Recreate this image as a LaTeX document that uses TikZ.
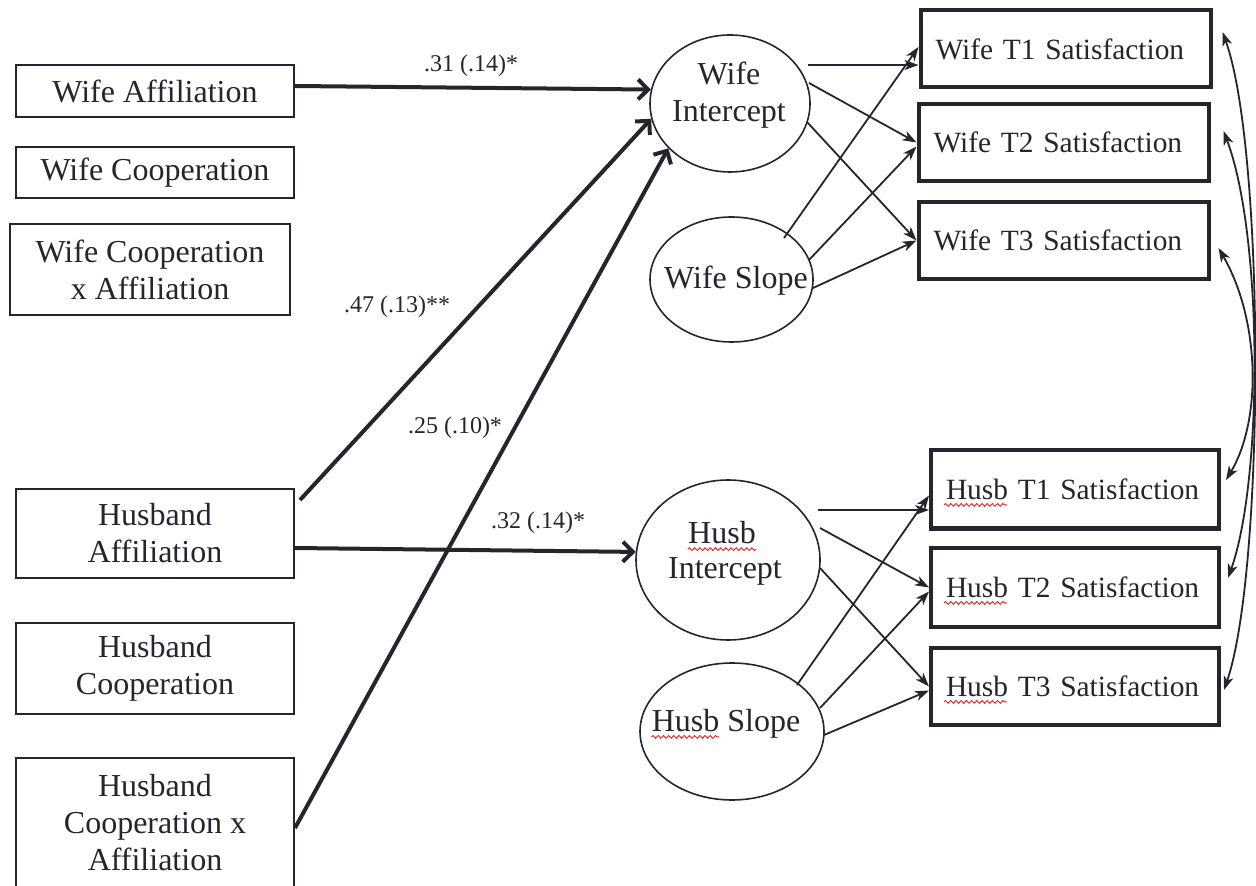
\documentclass[tikz,border=0pt]{standalone}
\usepackage{fontspec}
\setmainfont{Liberation Serif}
\usetikzlibrary{arrows.meta,shapes.geometric,calc,decorations.pathmorphing}
\definecolor{ink}{HTML}{25252D}
\definecolor{spellred}{HTML}{E02424}
\begin{document}
\begin{tikzpicture}[x=0.5pt,y=-0.5pt,
  lbox/.style={draw=ink, line width=1pt, minimum width=139pt, inner sep=0pt, align=center, text=ink, font=\fontsize{16}{18.5}\selectfont},
  rbox/.style={draw=ink, line width=2pt, minimum width=145pt, minimum height=38.5pt, inner xsep=7.5pt, inner ysep=0pt, text width=130pt, align=left, text=ink, font=\fontsize{14.7}{18}\selectfont},
  latent/.style={ellipse, draw=ink, line width=0.8pt, inner sep=0pt},
  lattext/.style={align=center, inner sep=0pt, text=ink, font=\fontsize{16}{18.5}\selectfont},
  bigarrow/.style={draw=ink, line width=2pt, -{Straight Barb[length=5pt,width=10pt]}},
  arr/.style={draw=ink, line width=0.9pt, -{Stealth[length=7pt,width=5pt,inset=2pt]}},
  corr/.style={draw=ink, line width=0.9pt, {Stealth[length=7pt,width=5pt,inset=2pt]}-{Stealth[length=7pt,width=5pt,inset=2pt]}},
  coef/.style={font=\fontsize{12}{14}\selectfont, inner sep=0pt, text=ink},
  spell/.style={draw=spellred, line width=0.45pt, decorate, decoration={snake, amplitude=0.7pt, segment length=2.6pt}}
]
\useasboundingbox[fill=white] (0,0) rectangle (1256,886);

% predictors
\node[lbox, minimum height=26pt] (wa) at (155,91) {Wife Affiliation};
\node[lbox, minimum height=25.5pt] (wc) at (155,172.5) {Wife Cooperation};
\node[lbox, minimum width=140pt, minimum height=45.5pt] (wcxa) at (150,269.5) {Wife Cooperation\\x Affiliation};
\node[lbox, minimum height=44.5pt] (ha) at (155,533.5) {Husband\\Affiliation};
\node[lbox, minimum height=45.5pt] (hc) at (155,668.5) {Husband\\Cooperation};
\node[lbox, minimum height=65pt] (hcxa) at (155,823) {Husband\\Cooperation x\\Affiliation};

% latent growth factors
\node[latent, minimum width=80pt, minimum height=68.5pt] (wi) at (730,103.5) {};
\node[lattext] (wit) at (729,95) {Wife\\Intercept};
\node[latent, minimum width=81.5pt, minimum height=62.5pt] (ws) at (731.5,279.5) {};
\node[lattext] (wst) at (736,281) {Wife Slope};
\node[latent, minimum width=92pt, minimum height=80pt] (hi) at (728,560) {};
\node[lattext] (hit1) at (722,533) {Husb};
\node[lattext] (hit2) at (725,571) {Intercept};
\node[latent, minimum width=92pt, minimum height=68.5pt] (hs) at (732,731.5) {};
\node[lattext] (hst) at (726,724) {Husb Slope};

% outcomes
\node[rbox] (wt1) at (1065.5,49) {\mbox{Wife T1 Satisfaction}};
\node[rbox] (wt2) at (1063.5,142.5) {\mbox{Wife T2 Satisfaction}};
\node[rbox] (wt3) at (1063.5,240.5) {\mbox{Wife T3 Satisfaction}};
\node[rbox, minimum width=144pt, text width=129pt, minimum height=39pt] (ht1) at (1075,489.5) {\mbox{Husb T1 Satisfaction}};
\node[rbox, minimum width=144pt, text width=129pt, minimum height=39.5pt] (ht2) at (1075,587.5) {\mbox{Husb T2 Satisfaction}};
\node[rbox, minimum width=144pt, text width=129pt, minimum height=38.5pt] (ht3) at (1075,686.5) {\mbox{Husb T3 Satisfaction}};

% spell-check underlines
\draw[spell] ([yshift=-2.6pt]hit1.base west) -- ([yshift=-2.6pt]hit1.base east);
\draw[spell] ([yshift=-2.6pt]hst.base west) -- ++(33.8pt,0);
\draw[spell] ([xshift=7.5pt,yshift=-2.6pt]ht1.base west) -- ++(31.5pt,0);
\draw[spell] ([xshift=7.5pt,yshift=-2.6pt]ht2.base west) -- ++(31.5pt,0);
\draw[spell] ([xshift=7.5pt,yshift=-2.6pt]ht3.base west) -- ++(31.5pt,0);

% coefficient labels
\node[coef] (c1) at (471,66) {.31 (.14)*};
\node[coef] (c2) at (397,307) {.47 (.13)**};
\node[coef] (c3) at (455,428) {.25 (.10)*};
\node[coef] (c4) at (538,523) {.32 (.14)*};

% predictor paths
\coordinate (haD) at (300,500);
\draw[bigarrow] ([yshift=2.5pt]wa.east) -- (wi.170);
\draw[bigarrow] (haD) -- (wi.191);
\draw[bigarrow] ([yshift=-2.5pt]hcxa.east) -- (wi.216);
\draw[bigarrow] ([yshift=-7.25pt]ha.east) -- (hi.175);

% loadings
\coordinate (wiA) at (808,65);
\coordinate (wiB) at (809,83);
\coordinate (wiC) at (807,122);
\coordinate (wsA) at (784,238);
\coordinate (wsB) at (809,260);
\coordinate (wsC) at (813,288);
\coordinate (hiA) at (818,510);
\coordinate (hiB) at (820,528);
\coordinate (hiC) at (820,568);
\coordinate (hsA) at (797,685);
\coordinate (hsB) at (820,708);
\coordinate (hsC) at (824,735);
\draw[arr] (wiA) -- ([yshift=-8pt]wt1.west);
\draw[arr] (wiB) -- (wt2.west);
\draw[arr] (wiC) -- (wt3.west);
\draw[arr] (wsA) -- ([yshift=1pt]wt1.west);
\draw[arr] (wsB) -- ([yshift=-2pt]wt2.west);
\draw[arr] (wsC) -- (wt3.west);
\draw[arr] (hiA) -- ([yshift=-10.25pt]ht1.west);
\draw[arr] (hiB) -- (ht2.west);
\draw[arr] (hiC) -- (ht3.west);
\draw[arr] (hsA) -- ([yshift=-3pt]ht1.west);
\draw[arr] (hsB) -- ([yshift=-2pt]ht2.west);
\draw[arr] (hsC) -- ([yshift=-2pt]ht3.west);

% residual covariances
\draw[corr] ([xshift=5pt,yshift=8.5pt]wt1.east) .. controls (1265,150) and (1265,570) .. ([xshift=1.5pt,yshift=-1.75pt]ht3.east);
\draw[corr] ([xshift=6.5pt,yshift=5.75pt]wt2.east) .. controls (1263,235) and (1263,480) .. ([xshift=3.5pt,yshift=4.75pt]ht2.east);
\draw[corr] ([xshift=4pt,yshift=-3.75pt]wt3.east) .. controls (1260,320) and (1262,420) .. ([xshift=2.5pt,yshift=4.75pt]ht1.east);
\end{tikzpicture}
\end{document}
